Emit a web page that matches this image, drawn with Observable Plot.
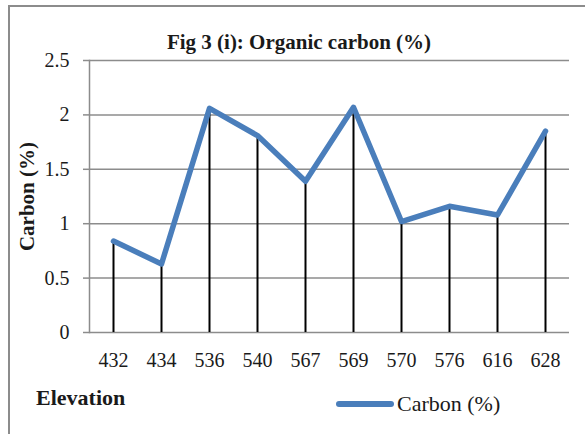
<!DOCTYPE html>
<html>
<head>
<meta charset="utf-8">
<script src="https://cdn.jsdelivr.net/npm/d3@7"></script>
<script src="https://cdn.jsdelivr.net/npm/@observablehq/plot@0.6"></script>
<style>
  body { margin: 0; background: #fff; }
  #wrap { position: relative; width: 585px; height: 434px; overflow: hidden; background: #fff;
          font-family: 'Liberation Serif', 'Times New Roman', serif; color: #1a1a1a; }
  #border { position: absolute; left: 8px; top: 5px; width: 640px; height: 480px; border: 2px solid #8c8c8c; box-sizing: border-box; }
  #title { position: absolute; left: 0; width: 598px; top: 28px; text-align: center; font-weight: bold; font-size: 21px; line-height: 28px; }
  #chart { position: absolute; left: 0; top: 50px; }
  #xlabel { position: absolute; left: 36px; top: 384px; font-weight: bold; font-size: 22px; line-height: 28px; }
  #legend { position: absolute; left: 336px; top: 390px; display: flex; align-items: center; font-size: 22px; line-height: 28px; }
  #legend .sw { width: 58px; height: 6px; border-radius: 3px; background: #4a7ebb; margin-right: 3px; }
</style>
</head>
<body>
<div id="wrap">
  <div id="border"></div>
  <div id="title">Fig 3 (i): Organic carbon (%)</div>
  <div id="chart"></div>
  <div id="xlabel">Elevation</div>
  <div id="legend"><div class="sw"></div><span>Carbon (%)</span></div>
</div>
<script>
const elevations = ["432", "434", "536", "540", "567", "569", "570", "576", "616", "628"];
const carbon = [0.84, 0.63, 2.06, 1.81, 1.39, 2.07, 1.02, 1.16, 1.08, 1.85];
const yTicks = [0, 0.5, 1, 1.5, 2, 2.5];
const yTitle = "Carbon (%)";

const data = elevations.map((e, i) => ({elev: e, carbon: carbon[i]}));

const chart = Plot.plot({
  width: 585,
  height: 320,
  marginTop: 10,
  marginBottom: 38,
  marginLeft: 89,
  marginRight: 16,
  style: {fontFamily: "'Liberation Serif', 'Times New Roman', serif", fontSize: "20px", color: "#1a1a1a", background: "transparent"},
  x: {type: "point", domain: elevations, padding: 0.5, label: null},
  y: {domain: [0, 2.5], label: null},
  marks: [
    Plot.gridY(yTicks, {stroke: "#8c8c8c", strokeOpacity: 1, strokeWidth: 1.5}),
    Plot.axisY(yTicks, {tickSize: 6, tickPadding: 14, stroke: "#8c8c8c", strokeWidth: 1.5, label: null, tickFormat: d => String(d), fontSize: 20}),
    Plot.axisX({tickSize: 0, tickPadding: 20, label: null, fontSize: 20}),
    Plot.frame({anchor: "left", stroke: "#8c8c8c", strokeWidth: 1.5}),
    Plot.ruleX(data, {x: "elev", y1: 0, y2: "carbon", stroke: "black", strokeWidth: 2}),
    Plot.lineY(data, {x: "elev", y: "carbon", stroke: "#4a7ebb", strokeWidth: 5.5, strokeLinejoin: "round", strokeLinecap: "round"}),
    Plot.text([yTitle], {frameAnchor: "left", text: d => d, rotate: -90, dx: -62, textAnchor: "middle", lineAnchor: "middle", fontWeight: "bold", fontSize: 21})
  ]
});
document.getElementById("chart").appendChild(chart);
</script>
</body>
</html>
